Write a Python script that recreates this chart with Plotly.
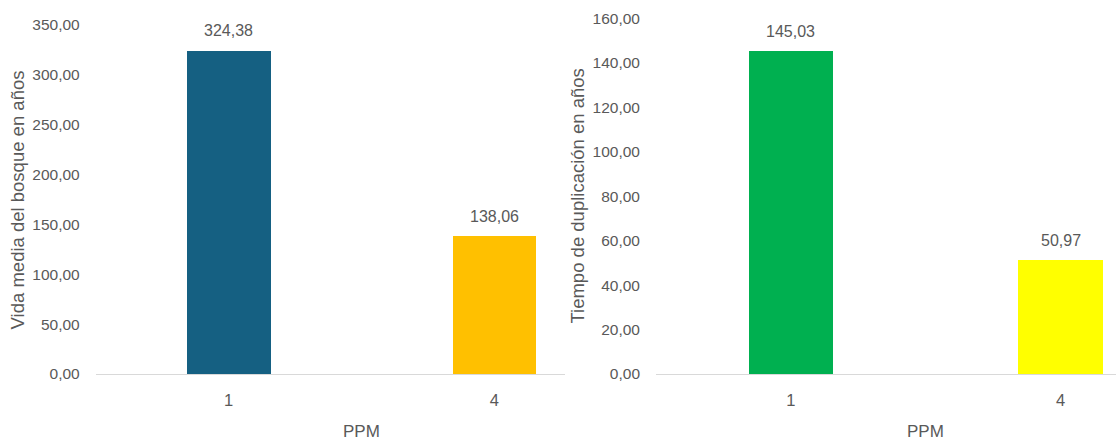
import plotly.graph_objects as go

categories = ["1", "4"]
vida_media = [324.38, 138.06]
tiempo_dup = [145.03, 50.97]
left_colors = ["#156082", "#FFC000"]
right_colors = ["#00B050", "#FFFF00"]
left_ticks = [0, 50, 100, 150, 200, 250, 300, 350]
right_ticks = [0, 20, 40, 60, 80, 100, 120, 140, 160]
left_ytitle = "Vida media del bosque en años"
right_ytitle = "Tiempo de duplicación en años"
xtitle = "PPM"

W, H = 1116, 440
TXT = "#595959"
FONT = "Liberation Sans, Arial, sans-serif"

def fmt(v):
    return f"{v:.2f}".replace(".", ",")

fig = go.Figure()
fig.add_trace(go.Bar(x=categories, y=vida_media, marker=dict(color=left_colors, line=dict(width=0)),
                     width=0.314, xaxis="x", yaxis="y", hoverinfo="skip"))
fig.add_trace(go.Bar(x=categories, y=tiempo_dup, marker=dict(color=right_colors, line=dict(width=0)),
                     width=0.313, xaxis="x2", yaxis="y2", hoverinfo="skip"))

def px_x(p):
    return p / W

def px_y(p):
    return (H - p) / H

# left plot geometry
lx0 = 95.7
lstep = 265.8
lx1 = 565
ly0, ly1 = 374, 25
# right plot geometry
rx0 = 656
rstep = 269.8
rx1 = 1116
ry0, ry1 = 374, 18.3

xcommon = dict(type="category", showgrid=False, zeroline=False, showline=True,
               linecolor="#D9D9D9", linewidth=1, ticks="", fixedrange=True,
               tickfont=dict(family=FONT, size=16.5, color=TXT), ticklabelstandoff=11)
ycommon = dict(showgrid=False, zeroline=False, showline=False, ticks="",
               tickformat=".2f", tickfont=dict(family=FONT, size=15.5, color=TXT),
               ticklabelstandoff=15, fixedrange=True)

fig.update_layout(
    width=W, height=H,
    margin=dict(l=0, r=0, t=0, b=0, autoexpand=False),
    paper_bgcolor="white", plot_bgcolor="white",
    separators=",.",
    showlegend=False,
    bargap=0,
    xaxis=dict(xcommon, domain=[px_x(lx0), px_x(lx1)],
               range=[-0.5, -0.5 + (lx1 - lx0) / lstep], anchor="y"),
    yaxis=dict(ycommon, domain=[px_y(ly0), px_y(ly1)], range=[0, 350],
               tickvals=left_ticks, anchor="x"),
    xaxis2=dict(xcommon, domain=[px_x(rx0), px_x(rx1)],
                range=[-0.5, -0.5 + (rx1 - rx0) / rstep], anchor="y2"),
    yaxis2=dict(ycommon, domain=[px_y(ry0), px_y(ry1)], range=[0, 160],
                tickvals=right_ticks, anchor="x2"),
)

ann = []
for i, v in enumerate(vida_media):
    ann.append(dict(x=i, y=v, xref="x", yref="y", text=fmt(v), showarrow=False,
                    yanchor="middle", yshift=20, font=dict(family=FONT, size=16, color=TXT)))
for i, v in enumerate(tiempo_dup):
    ann.append(dict(x=i, y=v, xref="x2", yref="y2", text=fmt(v), showarrow=False,
                    yanchor="middle", yshift=20, font=dict(family=FONT, size=16, color=TXT)))
# x titles
ann.append(dict(x=0.5, y=px_y(431.7), xref="x", yref="paper", text=xtitle, showarrow=False,
                yanchor="middle", font=dict(family=FONT, size=17, color=TXT)))
ann.append(dict(x=0.5, y=px_y(431.7), xref="x2", yref="paper", text=xtitle, showarrow=False,
                yanchor="middle", font=dict(family=FONT, size=17, color=TXT)))
# y titles
ann.append(dict(x=px_x(17.9), y=px_y((ly0 + ly1) / 2), xref="paper", yref="paper",
                text=left_ytitle, textangle=-90, showarrow=False,
                xanchor="center", yanchor="middle", font=dict(family=FONT, size=18.5, color=TXT)))
ann.append(dict(x=px_x(577.4), y=px_y((ry0 + ry1) / 2), xref="paper", yref="paper",
                text=right_ytitle, textangle=-90, showarrow=False,
                xanchor="center", yanchor="middle", font=dict(family=FONT, size=18.5, color=TXT)))
fig.update_layout(annotations=ann)

fig.write_html("out.html")
